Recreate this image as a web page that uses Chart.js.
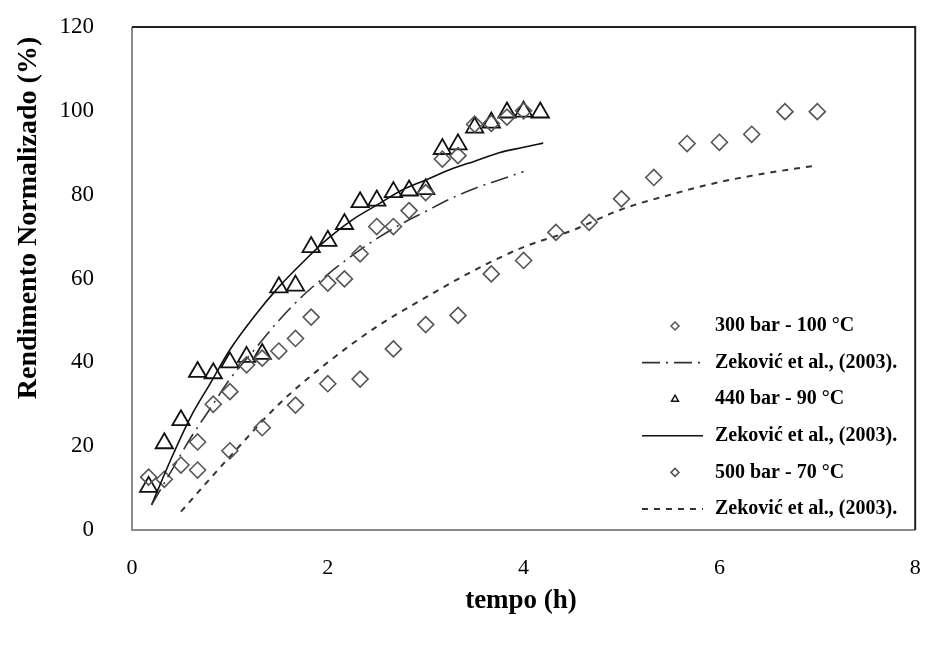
<!DOCTYPE html>
<html>
<head>
<meta charset="utf-8">
<script src="https://cdn.jsdelivr.net/npm/chart.js@4/dist/chart.umd.min.js"></script>
<style>
  html, body { margin: 0; padding: 0; background: #fff; }
  #wrap { width: 927px; height: 648px; position: relative; }
</style>
</head>
<body>
<div id="wrap"><canvas id="rendChart"></canvas></div>
<script>
// experimental points (tempo em h, rendimento normalizado em %)
var tempo300 = [0.17, 0.5, 0.67, 0.83, 1.0, 1.17, 1.33, 1.5, 1.67, 1.83, 2.0, 2.17, 2.33, 2.5, 2.67, 2.83, 3.0, 3.17, 3.33, 3.5, 3.67, 3.83, 4.0];
var rend300 = [12.6, 15.5, 21, 30, 33, 39.4, 41, 42.7, 45.7, 50.8, 58.9, 59.9, 65.9, 72.4, 72.4, 76.2, 80.5, 88.5, 89.3, 96.8, 97, 98.5, 100];

var tempo440 = [0.17, 0.33, 0.5, 0.67, 0.83, 1.0, 1.17, 1.33, 1.5, 1.67, 1.83, 2.0, 2.17, 2.33, 2.5, 2.67, 2.83, 3.0, 3.17, 3.33, 3.5, 3.67, 3.83, 4.0, 4.17];
var rend440 = [10.3, 20.7, 26.2, 37.7, 37.4, 40, 41.3, 42, 57.9, 58.3, 67.5, 69, 73, 78.2, 78.6, 80.6, 81, 81.3, 90.9, 92, 96, 97.2, 99.6, 99.8, 99.6];

var tempo500 = [0.33, 0.67, 1.0, 1.33, 1.67, 2.0, 2.33, 2.67, 3.0, 3.33, 3.67, 4.0, 4.33, 4.67, 5.0, 5.33, 5.67, 6.0, 6.33, 6.67, 7.0];
var rend500 = [12.1, 14.3, 18.9, 24.4, 29.8, 34.9, 36, 43.2, 49, 51.2, 61.1, 64.3, 71, 73.4, 79, 84.1, 92.2, 92.5, 94.4, 99.8, 99.8];

// model curves (Zekovic et al., 2003)
var modeloT300 = [0.2, 0.4, 0.6, 0.8, 1.0, 1.25, 1.5, 1.75, 2.0, 2.25, 2.5, 2.75, 3.0, 3.25, 3.5, 3.75, 4.0];
var modelo300 = [6, 14, 22, 29, 36, 43, 50, 56, 61, 65.5, 69.5, 73, 76, 79, 81.5, 83.5, 85.5];

var modeloT440 = [0.2, 0.4, 0.6, 0.8, 1.0, 1.25, 1.5, 1.75, 2.0, 2.25, 2.5, 2.75, 3.0, 3.25, 3.5, 3.75, 4.0, 4.2];
var modelo440 = [6, 17, 27, 35, 43, 51, 58, 64, 69.5, 74, 77.5, 81, 83.5, 86, 88, 90, 91.3, 92.3];

var modeloT500 = [0.5, 0.75, 1.0, 1.5, 2.0, 2.5, 3.0, 3.5, 4.0, 4.5, 5.0, 5.5, 6.0, 6.5, 7.0];
var modelo500 = [4.4, 11, 17.5, 30, 40, 48.5, 55.5, 62, 67.5, 71.5, 76.5, 80, 83, 85.2, 87];

var legendLabels = ['300 bar - 100 °C', 'Zeković et al., (2003).', '440 bar - 90 °C', 'Zeković et al., (2003).', '500 bar - 70 °C', 'Zeković et al., (2003).'];
var xTicks = [0, 2, 4, 6, 8];
var yTicks = [0, 20, 40, 60, 80, 100, 120];

function pts(xs, ys) {
    return xs.map(function(x, i) { return { x: x, y: ys[i] }; });
}

var serif = "'Liberation Serif', 'Times New Roman', serif";

// frame around the plot area
var framePlugin = {
    id: 'frame',
    afterDraw: function(chart) {
        var a = chart.chartArea, c = chart.ctx;
        c.save();
        c.lineWidth = 2;
        c.strokeStyle = '#8a8a8a';
        c.beginPath();
        c.moveTo(a.left, a.top); c.lineTo(a.left, a.bottom); c.lineTo(a.right, a.bottom);
        c.stroke();
        c.strokeStyle = '#222';
        c.beginPath();
        c.moveTo(a.left, a.top); c.lineTo(a.right, a.top); c.lineTo(a.right, a.bottom);
        c.stroke();
        c.restore();
    }
};

// axis titles
var titlePlugin = {
    id: 'axisTitles',
    afterDraw: function(chart) {
        var c = chart.ctx;
        c.save();
        c.fillStyle = '#000';
        c.font = 'bold 27px ' + serif;
        c.textAlign = 'center';
        c.textBaseline = 'middle';
        c.fillText('tempo (h)', 521, 601);
        c.font = 'bold 28px ' + serif;
        c.translate(29, 218);
        c.rotate(-Math.PI / 2);
        c.fillText('Rendimento Normalizado (%)', 0, 0);
        c.restore();
    }
};

// legend in the lower right corner, built from the datasets
var legendPlugin = {
    id: 'cornerLegend',
    afterDraw: function(chart) {
        var c = chart.ctx;
        var rowY = 326, step = 36.6;
        c.save();
        chart.data.datasets.forEach(function(ds, i) {
            var y = rowY + i * step;
            if (ds.showLine) {
                c.save();
                c.strokeStyle = ds.borderColor;
                c.lineWidth = ds.borderWidth;
                c.setLineDash(ds.borderDash || []);
                c.beginPath();
                c.moveTo(642, y); c.lineTo(703, y);
                c.stroke();
                c.restore();
            } else {
                c.save();
                c.strokeStyle = ds.pointBorderColor;
                c.fillStyle = 'rgba(0,0,0,0)';
                c.lineWidth = 1.5;
                Chart.helpers.drawPoint(c, { pointStyle: ds.pointStyle, radius: 4, rotation: 0, borderWidth: 1.5 }, 675, y);
                c.restore();
            }
            c.fillStyle = '#000';
            c.font = 'bold 20px ' + serif;
            c.textAlign = 'left';
            c.textBaseline = 'middle';
            c.fillText(ds.label, 715, y);
        });
        c.restore();
    }
};

var ctx = document.getElementById('rendChart').getContext('2d');
var rendChart = new Chart(ctx, {
    type: 'scatter',
    data: {
        datasets: [
            {
                label: legendLabels[0],
                data: pts(tempo300, rend300),
                showLine: false,
                pointStyle: 'rectRot',
                pointRadius: 8,
                pointBorderWidth: 1.6,
                pointBorderColor: '#555',
                pointBackgroundColor: 'rgba(0,0,0,0)'
            },
            {
                label: legendLabels[1],
                data: pts(modeloT300, modelo300),
                showLine: true,
                pointRadius: 0,
                borderColor: '#333',
                borderWidth: 1.6,
                borderDash: [18, 6, 2, 6],
                cubicInterpolationMode: 'monotone'
            },
            {
                label: legendLabels[2],
                data: pts(tempo440, rend440),
                showLine: false,
                pointStyle: 'triangle',
                pointRadius: 10,
                pointBorderWidth: 1.8,
                pointBorderColor: '#111',
                pointBackgroundColor: 'rgba(0,0,0,0)'
            },
            {
                label: legendLabels[3],
                data: pts(modeloT440, modelo440),
                showLine: true,
                pointRadius: 0,
                borderColor: '#111',
                borderWidth: 1.6,
                cubicInterpolationMode: 'monotone'
            },
            {
                label: legendLabels[4],
                data: pts(tempo500, rend500),
                showLine: false,
                pointStyle: 'rectRot',
                pointRadius: 8,
                pointBorderWidth: 1.6,
                pointBorderColor: '#555',
                pointBackgroundColor: 'rgba(0,0,0,0)'
            },
            {
                label: legendLabels[5],
                data: pts(modeloT500, modelo500),
                showLine: true,
                pointRadius: 0,
                borderColor: '#333',
                borderWidth: 2,
                borderDash: [6, 6],
                cubicInterpolationMode: 'monotone'
            }
        ]
    },
    options: {
        responsive: true,
        maintainAspectRatio: false,
        animation: false,
        layout: { padding: { top: 27, right: 8, left: 0, bottom: 0 } },
        plugins: {
            legend: { display: false },
            tooltip: { enabled: false }
        },
        scales: {
            x: {
                type: 'linear',
                min: 0,
                max: 8,
                afterFit: function(s) {
                    s.height = 118;
                    s.paddingLeft = 0;
                    s.paddingRight = 0;
                },
                afterBuildTicks: function(s) { s.ticks = xTicks.map(function(v) { return { value: v }; }); },
                grid: { display: false },
                border: { display: false },
                ticks: {
                    color: '#000',
                    padding: 17,
                    font: { family: serif, size: 22 }
                }
            },
            y: {
                type: 'linear',
                min: 0,
                max: 120,
                afterFit: function(s) {
                    s.width = 132;
                    s.paddingTop = 0;
                    s.paddingBottom = 0;
                },
                afterBuildTicks: function(s) { s.ticks = yTicks.map(function(v) { return { value: v }; }); },
                grid: { display: false },
                border: { display: false },
                ticks: {
                    color: '#000',
                    padding: 30,
                    font: { family: serif, size: 23 }
                }
            }
        }
    },
    plugins: [framePlugin, titlePlugin, legendPlugin]
});
</script>
</body>
</html>
